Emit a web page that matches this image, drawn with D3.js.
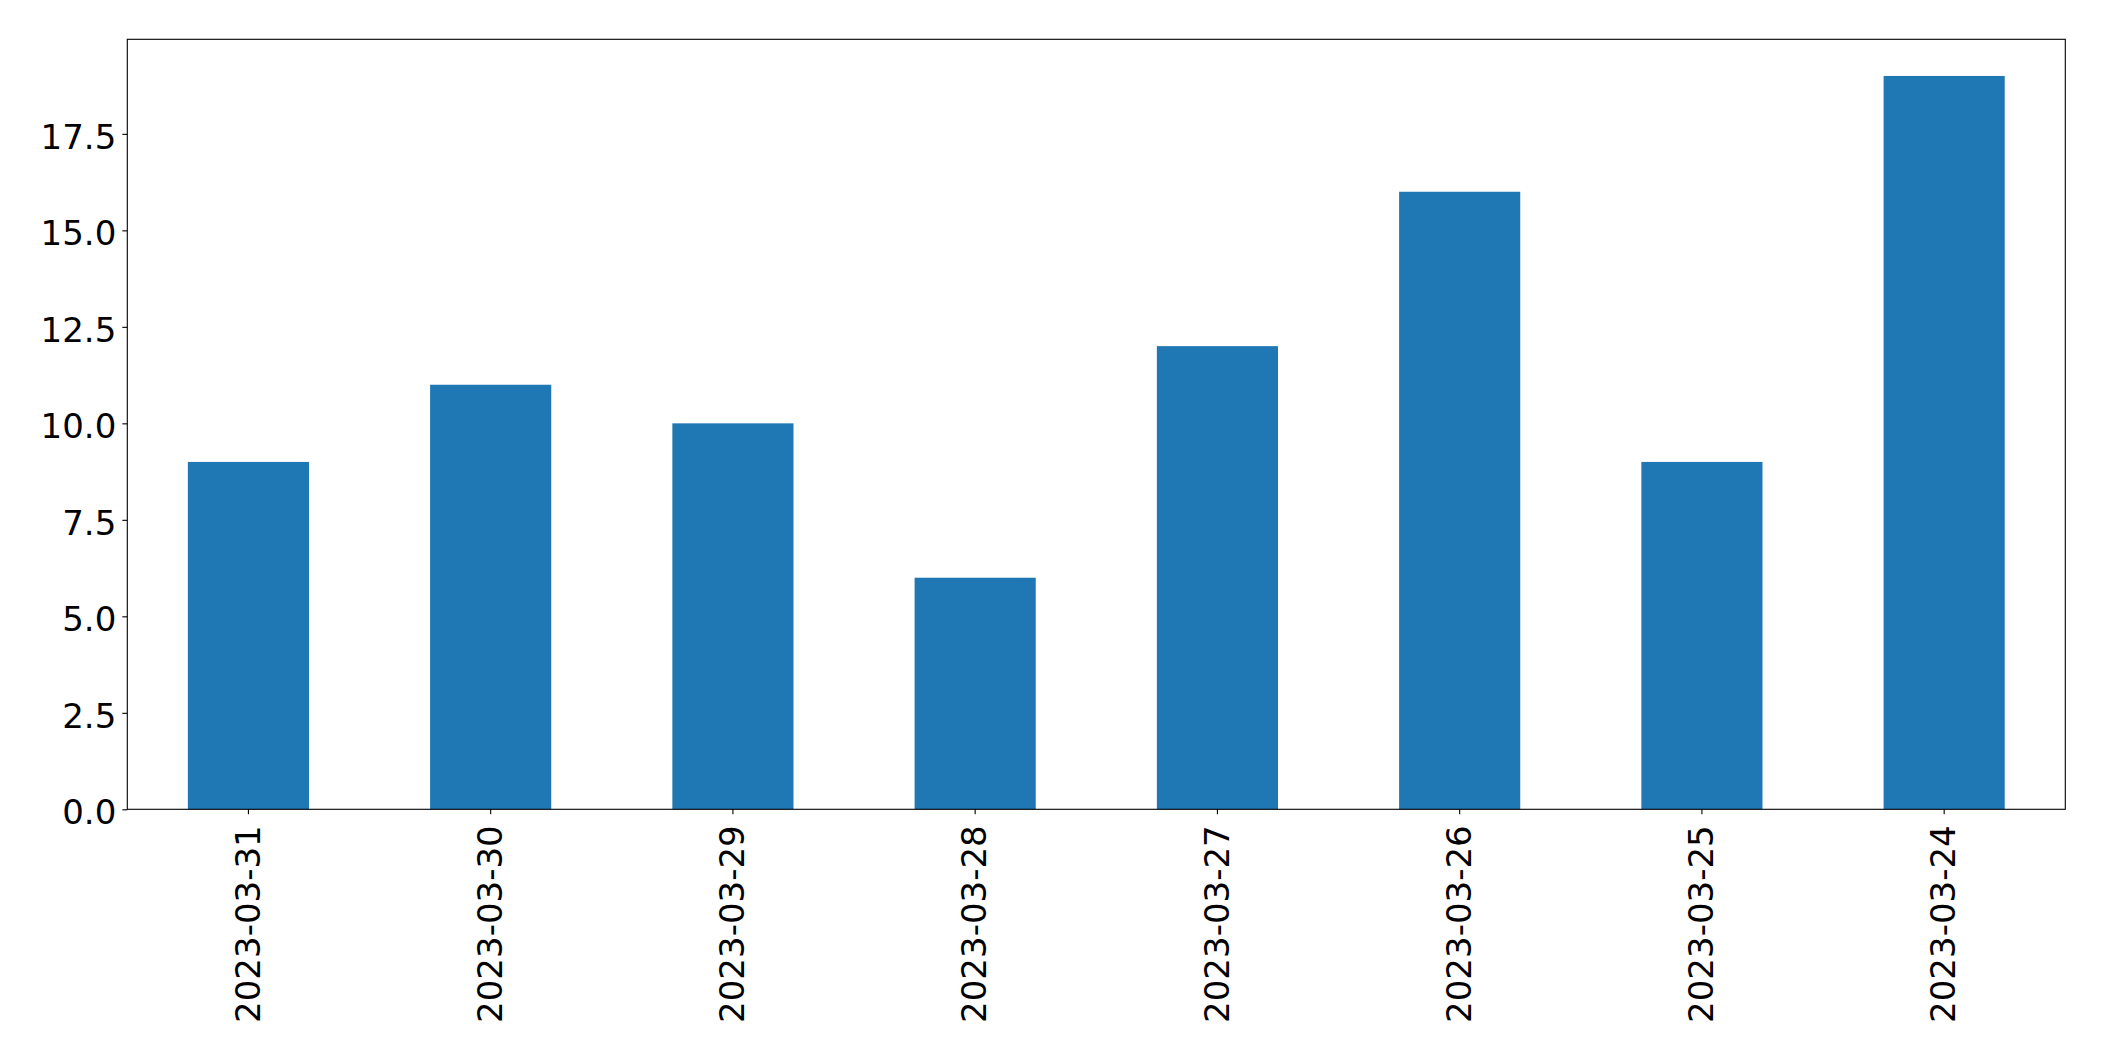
<!DOCTYPE html>
<html><head><meta charset="utf-8">
<script src="https://cdn.jsdelivr.net/npm/d3@7"></script>
<style>body{margin:0;background:#fff}svg{display:block}text{font-family:"DejaVu Sans",sans-serif}</style>
</head><body>
<svg id="c" width="2104" height="1061"></svg>
<script>
const categories = ["2023-03-31","2023-03-30","2023-03-29","2023-03-28","2023-03-27","2023-03-26","2023-03-25","2023-03-24"];
const values = [9, 11, 10, 6, 12, 16, 9, 19];
const yTicks = [0, 2.5, 5, 7.5, 10, 12.5, 15, 17.5];

const m = {left:127.3, right:2065.3, top:39.3, bottom:809.3};
const svg = d3.select("#c");
const x = d3.scaleBand().domain(categories).range([m.left, m.right]).paddingInner(0.5).paddingOuter(0.25);
const y = d3.scaleLinear().domain([0, 19.95]).range([m.bottom, m.top]);
const fs = 34;

svg.append("g").selectAll("rect").data(values).join("rect")
  .attr("x", (d,i)=>x(categories[i])).attr("width", x.bandwidth())
  .attr("y", d=>y(d)).attr("height", d=>y(0)-y(d)).attr("fill", "#1f77b4");

const ya = svg.append("g").attr("transform", `translate(${m.left},0)`)
  .call(d3.axisLeft(y).tickValues(yTicks).tickFormat(d3.format(".1f")).tickSize(5).tickPadding(6));
ya.select(".domain").remove();
ya.selectAll("line").attr("stroke","#000").attr("stroke-width",1.1);
ya.selectAll("text").attr("font-size", fs).attr("fill","#000").attr("font-family","DejaVu Sans").attr("dy","0.42em");

const xa = svg.append("g").attr("transform", `translate(0,${m.bottom})`)
  .call(d3.axisBottom(x).tickSize(5).tickPadding(0));
xa.select(".domain").remove();
xa.selectAll("line").attr("stroke","#000").attr("stroke-width",1.1);
xa.selectAll("text").attr("font-size", fs).attr("fill","#000").attr("font-family","DejaVu Sans")
  .attr("text-anchor","end").attr("x",null).attr("y",null).attr("dy","0.33em")
  .attr("transform","translate(0,16) rotate(-90)");

svg.append("rect").attr("x", m.left).attr("y", m.top).attr("width", m.right-m.left).attr("height", m.bottom-m.top)
  .attr("fill","none").attr("stroke","#000").attr("stroke-width",1.1);
</script>
</body></html>
